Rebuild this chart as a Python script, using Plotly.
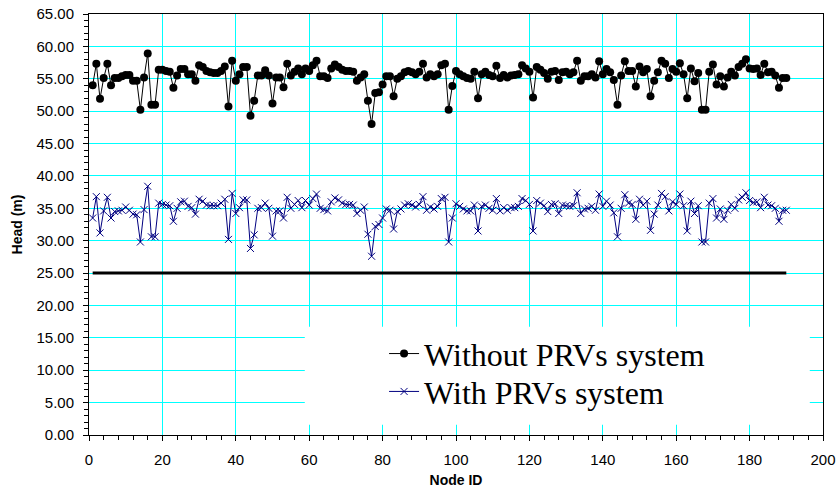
import plotly.graph_objects as go

node_ids = list(range(1, 191))

head_without_prv = [
    54.0, 57.3, 51.9, 55.1, 57.3, 54.0, 55.1, 55.1, 55.4, 55.6,
    55.6, 54.7, 54.7, 50.2, 55.2, 58.9, 51.0, 51.0, 56.4, 56.4,
    56.2, 56.1, 53.6, 55.5, 56.5, 56.5, 55.7, 55.7, 54.7, 57.1,
    56.8, 56.2, 56.0, 55.9, 55.9, 56.2, 56.9, 50.7, 57.8, 54.7,
    55.7, 56.8, 56.8, 49.3, 51.6, 55.5, 55.5, 56.3, 55.5, 51.2,
    55.2, 55.2, 53.7, 57.3, 55.5, 56.1, 56.6, 55.7, 56.6, 56.2,
    57.1, 57.8, 55.4, 55.4, 55.1, 56.6, 57.2, 56.8, 56.4, 56.2,
    56.2, 56.1, 54.7, 55.2, 55.7, 51.6, 48.0, 52.8, 52.9, 54.1,
    55.4, 55.4, 52.3, 55.0, 55.4, 56.0, 56.2, 56.0, 55.7, 56.1,
    57.3, 55.2, 55.7, 55.4, 55.7, 57.1, 57.3, 50.2, 53.9, 56.2,
    55.7, 55.4, 55.1, 55.0, 56.1, 52.0, 55.7, 56.1, 55.6, 55.4,
    57.0, 55.1, 55.6, 55.2, 55.5, 55.6, 55.7, 57.1, 56.6, 56.1,
    52.1, 56.8, 56.4, 55.9, 55.0, 56.1, 56.2, 54.8, 56.0, 56.1,
    55.7, 56.0, 57.8, 54.7, 55.4, 55.4, 55.7, 55.2, 57.7, 55.7,
    56.5, 56.0, 54.8, 51.0, 55.5, 57.7, 56.2, 56.2, 53.8, 56.9,
    56.0, 56.5, 52.3, 54.7, 56.0, 57.8, 57.3, 55.1, 56.5, 56.1,
    57.4, 55.7, 52.0, 56.6, 54.6, 55.9, 50.2, 50.2, 56.1, 57.2,
    54.1, 55.4, 53.8, 55.2, 56.1, 55.5, 56.8, 57.3, 58.0, 56.6,
    56.5, 56.6, 55.6, 57.3, 56.0, 56.1, 55.5, 53.6, 55.1, 55.1,
]

head_with_prv = [
    33.5, 36.8, 31.2, 34.6, 36.7, 33.5, 34.5, 34.6, 34.7, 35.2,
    34.7, 34.1, 34.0, 29.8, 34.8, 38.4, 30.6, 30.6, 35.8, 35.6,
    35.5, 35.4, 33.0, 35.0, 36.0, 36.1, 35.3, 35.1, 34.1, 36.4,
    36.1, 35.5, 35.4, 35.4, 35.4, 35.8, 36.4, 30.2, 37.3, 34.2,
    35.1, 36.3, 36.3, 28.8, 30.9, 35.0, 35.1, 35.8, 35.0, 30.7,
    34.6, 34.6, 33.5, 36.7, 35.0, 35.6, 36.2, 35.1, 36.2, 35.5,
    36.5, 37.2, 35.0, 34.8, 34.6, 36.0, 36.6, 36.3, 35.8, 35.6,
    35.6, 35.5, 34.2, 34.7, 35.2, 31.0, 27.6, 32.2, 32.5, 33.5,
    34.9, 34.7, 31.8, 34.5, 34.9, 35.5, 35.7, 35.5, 35.2, 35.6,
    36.8, 34.7, 35.2, 34.9, 35.3, 36.5, 36.7, 29.8, 33.5, 35.7,
    35.3, 34.9, 34.6, 34.6, 35.5, 31.5, 35.3, 35.5, 35.0, 34.7,
    36.5, 34.6, 35.1, 34.7, 35.1, 35.1, 35.3, 36.5, 36.2, 35.6,
    31.5, 36.2, 35.8, 35.4, 34.5, 35.6, 35.7, 34.2, 35.5, 35.4,
    35.3, 35.4, 37.4, 34.2, 34.9, 35.0, 35.3, 34.7, 37.2, 35.3,
    36.1, 35.5, 34.3, 30.6, 35.0, 37.1, 35.8, 35.6, 33.3, 36.4,
    35.5, 36.1, 31.6, 34.1, 35.5, 37.3, 36.8, 34.6, 36.0, 35.6,
    37.2, 35.4, 31.5, 36.1, 34.2, 35.4, 29.8, 29.8, 35.8, 36.5,
    33.5, 34.9, 33.3, 34.7, 35.6, 35.0, 36.3, 36.7, 37.4, 36.2,
    35.9, 36.0, 35.1, 36.7, 35.5, 35.4, 35.0, 33.0, 34.7, 34.7,
]

min_head = 25.0
min_head_line = [min_head] * len(node_ids)

series_names = ["Without PRVs system", "With PRVs system"]
y_ticks = [0, 5, 10, 15, 20, 25, 30, 35, 40, 45, 50, 55, 60, 65]
x_ticks = [0, 20, 40, 60, 80, 100, 120, 140, 160, 180, 200]

fig = go.Figure()

fig.add_trace(go.Scatter(
    x=node_ids, y=min_head_line, mode="lines",
    line=dict(color="black", width=3), showlegend=False, hoverinfo="skip",
))

fig.add_trace(go.Scatter(
    x=node_ids, y=head_without_prv, mode="lines+markers", name=series_names[0],
    line=dict(color="black", width=1),
    marker=dict(symbol="circle", size=8, color="black"),
    legend="legend",
))

fig.add_trace(go.Scatter(
    x=node_ids, y=head_with_prv, mode="lines+markers", name=series_names[1],
    line=dict(color="#000080", width=1),
    marker=dict(symbol="x-thin-open", size=7, color="#000080",
                line=dict(color="#000080", width=1)),
    legend="legend2",
))

tick_font = dict(family="Liberation Sans, Arial, sans-serif", size=15, color="black")
legend_font = dict(family="Liberation Serif, Times New Roman, serif", size=32, color="black")

fig.update_layout(
    width=840, height=499,
    margin=dict(l=89, r=17, t=14, b=64),
    paper_bgcolor="white", plot_bgcolor="white",
    font=dict(family="Liberation Sans, Arial, sans-serif", color="black"),
    xaxis=dict(
        range=[0, 200], tickvals=x_ticks, showgrid=True, gridcolor="#00FFFF", gridwidth=1,
        zeroline=False, showline=True, linecolor="black", linewidth=1, mirror=True,
        ticks="outside", ticklen=5, tickcolor="black", tickfont=tick_font,
        ticklabelstandoff=6, automargin=False,
        minor=dict(dtick=4, ticks="outside", ticklen=4, tickcolor="black", showgrid=False),
        title=dict(text="<b>Node ID</b>", font=dict(size=14, color="black"), standoff=8),
    ),
    yaxis=dict(
        range=[0, 65], tickvals=y_ticks, tickformat=".2f", showgrid=True, gridcolor="#00FFFF",
        gridwidth=1, zeroline=False, showline=True, linecolor="black", linewidth=1, mirror=True,
        ticks="outside", ticklen=5, tickcolor="black", tickfont=tick_font,
        ticklabelstandoff=6, automargin=False,
        minor=dict(dtick=1, ticks="outside", ticklen=4, tickcolor="black", showgrid=False),
        title=dict(text="<b>Head (m)</b>", font=dict(size=14, color="black"), standoff=10),
    ),
    legend=dict(
        x=0.402, y=0.193, xanchor="left", yanchor="middle",
        bgcolor="rgba(255,255,255,0)", borderwidth=0, font=legend_font,
    ),
    legend2=dict(
        x=0.402, y=0.103, xanchor="left", yanchor="middle",
        bgcolor="rgba(255,255,255,0)", borderwidth=0, font=legend_font,
    ),
    shapes=[dict(
        type="rect", xref="paper", yref="paper",
        x0=0.294, x1=0.982, y0=0.0245, y1=0.257,
        fillcolor="white", line=dict(width=0), layer="above",
    )],
)

fig.write_html("out.html")
